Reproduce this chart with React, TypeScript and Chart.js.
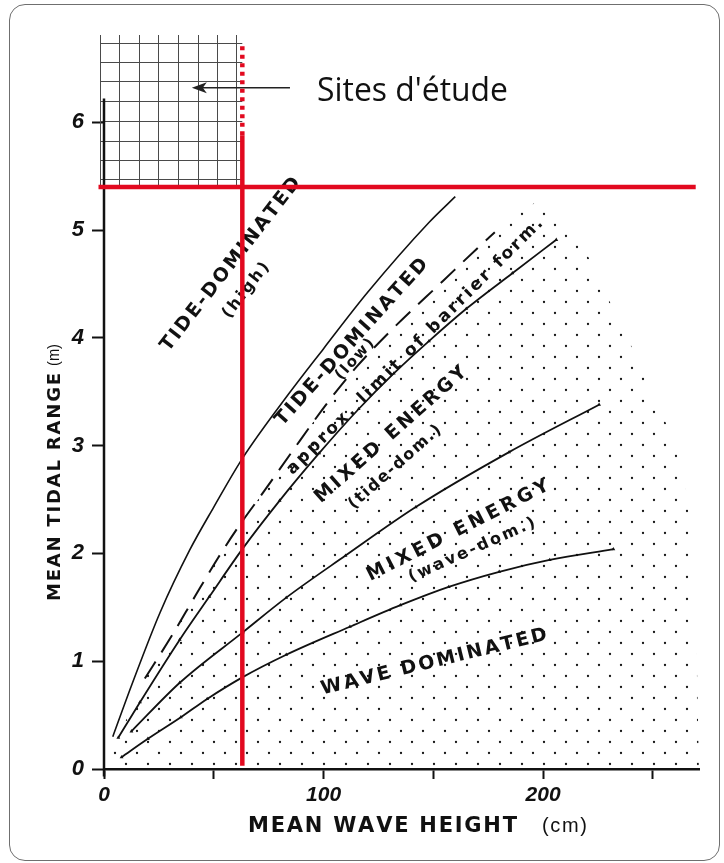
import React, { useEffect, useRef } from 'react';
import { Chart, registerables } from 'chart.js';

Chart.register(...registerables);

// ---------- DATA (x: mean wave height in cm, y: mean tidal range in m) ----------
const TIDE_HIGH_X = [4, 13, 25.5, 39, 50, 63, 84.5, 100, 120, 148, 160];
const TIDE_HIGH_Y = [0.3, 0.8, 1.45, 2.03, 2.43, 2.88, 3.49, 3.9, 4.42, 5.07, 5.31];

const BARRIER_LIMIT_X = [18.6, 31, 41.4, 52, 61, 73, 85.5, 101.5, 115, 130.8, 154.5, 170.5, 178];
const BARRIER_LIMIT_Y = [0.84, 1.24, 1.6, 1.96, 2.24, 2.58, 2.94, 3.39, 3.73, 4.07, 4.53, 4.84, 4.98];

const TIDE_LOW_X = [6.5, 16.4, 34.5, 48, 63, 80, 98, 116, 132, 148, 165, 186, 206];
const TIDE_LOW_Y = [0.29, 0.62, 1.2, 1.6, 2.04, 2.49, 2.93, 3.34, 3.67, 3.97, 4.27, 4.6, 4.91];

const MIXED_X = [12.5, 34.5, 63.3, 83, 110, 142, 184.5, 225.5];
const MIXED_Y = [0.35, 0.8, 1.27, 1.59, 1.98, 2.43, 2.94, 3.38];

const WAVE_X = [8, 20, 35, 47, 63, 83, 112, 135, 157, 180, 203, 232];
const WAVE_Y = [0.11, 0.28, 0.48, 0.65, 0.85, 1.06, 1.32, 1.52, 1.69, 1.83, 1.94, 2.04];

const STIPPLE_X = [3, 10, 18.6, 31, 41.4, 52, 61, 73, 85.5, 101.5, 115, 130.8, 154.5, 170.5, 185, 198, 206, 218, 230, 242, 252, 260, 265, 268, 270, 271];
const STIPPLE_Y = [0.12, 0.45, 0.84, 1.24, 1.6, 1.96, 2.24, 2.58, 2.94, 3.39, 3.73, 4.07, 4.53, 4.87, 5.12, 5.26, 5.16, 4.85, 4.35, 3.85, 3.4, 3.0, 2.6, 2.0, 1.0, 0];

const STUDY_WAVE_HEIGHT = 63; // cm
const STUDY_TIDAL_RANGE = 5.4; // m
const STUDY_GRID_X = [-1.8, 6.8, 15.9, 24.5, 33.6, 42.7, 51.4, 60];
const STUDY_GRID_Y = [5.47, 5.65, 5.83, 6.01, 6.2, 6.38, 6.56, 6.74];

const X_TICK_LABELS = [0, 100, 200];
const Y_TICK_LABELS = [0, 1, 2, 3, 4, 5, 6];

const REGION_LABELS = [
  'TIDE-DOMINATED',
  '(high)',
  'TIDE-DOMINATED',
  '(low)',
  'approx. limit of barrier form.',
  'MIXED ENERGY',
  '(tide-dom.)',
  'MIXED ENERGY',
  '(wave-dom.)',
  'WAVE DOMINATED',
];
const SITES_TEXT = "Sites d'étude";
const X_TITLE = 'MEAN WAVE HEIGHT';
const X_UNIT = '(cm)';
const Y_TITLE = 'MEAN TIDAL RANGE';
const Y_UNIT = '(m)';

// ---------- LAYOUT ----------
const FONT = "'Liberation Sans', 'DejaVu Sans', Arial, sans-serif";
const LABEL_FONT = "'DejaVu Sans', 'Liberation Sans', sans-serif";
const LABEL_LAYOUT = [
  { x: 57.8, y: 4.68, angle: -52, size: 19, width: 215 },
  { x: 64.7, y: 4.44, angle: -52, size: 16, width: 66 },
  { x: 112.9, y: 3.96, angle: -48, size: 19, width: 218 },
  { x: 114.3, y: 3.8, angle: -48, size: 15, width: 50 },
  { x: 141.6, y: 3.92, angle: -45, size: 17, width: 355 },
  { x: 130.7, y: 3.1, angle: -41.5, size: 19, width: 196 },
  { x: 132.5, y: 2.8, angle: -41.5, size: 16, width: 118 },
  { x: 161.2, y: 2.21, angle: -27, size: 19, width: 202 },
  { x: 167.6, y: 2.03, angle: -24, size: 16, width: 137 },
  { x: 150.3, y: 0.99, angle: -13.7, size: 19, width: 232 },
];

const RED = '#e2091f';
const INK = '#111111';

const pts = (xs: number[], ys: number[]) => xs.map((x, i) => ({ x, y: ys[i] }));

function drawFitted(
  ctx: CanvasRenderingContext2D,
  text: string,
  cx: number,
  cy: number,
  angleDeg: number,
  font: string,
  width: number,
  baseline: CanvasTextBaseline = 'middle',
  color = INK
) {
  ctx.save();
  ctx.font = font;
  ctx.fillStyle = color;
  ctx.textBaseline = baseline;
  ctx.textAlign = 'left';
  ctx.translate(cx, cy);
  ctx.rotate((angleDeg * Math.PI) / 180);
  const chars = Array.from(text);
  const widths = chars.map((c) => ctx.measureText(c).width);
  const w0 = widths.reduce((a, b) => a + b, 0);
  if (w0 >= width || chars.length < 2) {
    const s = w0 > 0 ? width / w0 : 1;
    ctx.scale(Math.min(s, 1.0), 1);
    ctx.fillText(text, -w0 / 2, 0);
  } else {
    const sp = (width - w0) / (chars.length - 1);
    let x = -width / 2;
    chars.forEach((c, i) => {
      ctx.fillText(c, x, 0);
      x += widths[i] + sp;
    });
  }
  ctx.restore();
}

export default function App() {
  const ref = useRef<HTMLCanvasElement>(null);

  useEffect(() => {
    const canvas = ref.current;
    if (!canvas) return;
    const ctx = canvas.getContext('2d')!;

    const tile = document.createElement('canvas');
    tile.width = 22;
    tile.height = 22;
    const tctx = tile.getContext('2d')!;
    tctx.fillStyle = '#151515';
    tctx.beginPath();
    tctx.arc(5, 5, 1.15, 0, Math.PI * 2);
    tctx.arc(16, 16, 1.15, 0, Math.PI * 2);
    tctx.fill();
    const stipple = ctx.createPattern(tile, 'repeat')!;

    const decor = {
      id: 'decor',
      beforeDatasetsDraw(chart: any) {
        const c = chart.ctx as CanvasRenderingContext2D;
        const xs = chart.scales.x;
        const ys = chart.scales.y;
        const X = (v: number) => xs.getPixelForValue(v);
        const Y = (v: number) => ys.getPixelForValue(v);
        const top = chart.chartArea.top;
        c.save();
        // study-site grid
        c.strokeStyle = '#4a4a4a';
        c.lineWidth = 1;
        STUDY_GRID_X.forEach((gx) => {
          const px = Math.round(X(gx)) + 0.5;
          c.beginPath();
          c.moveTo(px, Y(STUDY_TIDAL_RANGE));
          c.lineTo(px, top);
          c.stroke();
        });
        STUDY_GRID_Y.forEach((gy) => {
          const py = Math.round(Y(gy)) + 0.5;
          c.beginPath();
          c.moveTo(X(STUDY_GRID_X[0]), py);
          c.lineTo(X(STUDY_WAVE_HEIGHT), py);
          c.stroke();
        });
        // y axis line
        c.strokeStyle = INK;
        c.lineWidth = 2.5;
        c.beginPath();
        c.moveTo(X(0), Y(-0.07));
        c.lineTo(X(0), Y(6.22));
        c.stroke();
        c.restore();

        // region labels
        REGION_LABELS.forEach((t, i) => {
          const L = LABEL_LAYOUT[i];
          drawFitted(c, t, X(L.x), Y(L.y), L.angle, `bold ${L.size}px ${LABEL_FONT}`, L.width);
        });

        // Sites d'étude + arrow
        const ay = Y(6.32);
        drawFitted(c, SITES_TEXT, 412.5, ay + 13, 0, `32px 'Open Sans', ${FONT}`, 191, 'alphabetic');
        c.save();
        c.strokeStyle = '#222';
        c.fillStyle = '#222';
        c.lineWidth = 1.6;
        const ax0 = X(84.7);
        const ax1 = X(40);
        c.beginPath();
        c.moveTo(ax0, ay);
        c.lineTo(ax1 + 8, ay);
        c.stroke();
        c.beginPath();
        c.moveTo(ax1, ay);
        c.lineTo(ax1 + 15, ay - 5.5);
        c.lineTo(ax1 + 11, ay);
        c.lineTo(ax1 + 15, ay + 5.5);
        c.closePath();
        c.fill();
        c.restore();
      },
      afterDraw(chart: any) {
        const c = chart.ctx as CanvasRenderingContext2D;
        const area = chart.chartArea;
        // x axis title
        drawFitted(c, X_TITLE, 382.5, area.bottom + 63, 0, `bold 21px ${LABEL_FONT}`, 269, 'alphabetic');
        drawFitted(c, X_UNIT, 564.5, area.bottom + 63, 0, `20px ${FONT}`, 45, 'alphabetic');
        // y axis title
        drawFitted(c, Y_TITLE, 55, 487, -90, `bold 18px ${LABEL_FONT}`, 228, 'middle');
        drawFitted(c, Y_UNIT, 55, 355, -90, `16px ${FONT}`, 22, 'middle');
      },
    };

    const lineBase = {
      borderColor: INK,
      borderWidth: 1.8,
      pointRadius: 0,
      cubicInterpolationMode: 'monotone' as const,
      fill: false,
    };
    const barbs = {
      pointRadius: 2.2,
      pointStyle: 'triangle' as const,
      pointBackgroundColor: INK,
      pointBorderWidth: 0,
    };

    const chart = new Chart(canvas, {
      type: 'line',
      data: {
        datasets: [
          {
            label: 'vertical red (dotted)',
            data: [
              { x: STUDY_WAVE_HEIGHT, y: 5.88 },
              { x: STUDY_WAVE_HEIGHT, y: 6.72 },
            ],
            borderColor: RED,
            borderWidth: 4.5,
            borderDash: [4, 4.5],
            pointRadius: 0,
            order: 0,
          },
          {
            label: 'vertical red',
            data: [
              { x: STUDY_WAVE_HEIGHT, y: 0.03 },
              { x: STUDY_WAVE_HEIGHT, y: 5.88 },
            ],
            borderColor: RED,
            borderWidth: 4.5,
            pointRadius: 0,
            order: 0,
          },
          {
            label: 'horizontal red',
            data: [
              { x: -2.5, y: STUDY_TIDAL_RANGE },
              { x: 269.5, y: STUDY_TIDAL_RANGE },
            ],
            borderColor: RED,
            borderWidth: 4.5,
            pointRadius: 0,
            clip: false as any,
            order: 0,
          },
          { label: 'tide high', data: pts(TIDE_HIGH_X, TIDE_HIGH_Y), ...lineBase, borderWidth: 1.6, order: 1 },
          {
            label: 'barrier limit',
            data: pts(BARRIER_LIMIT_X, BARRIER_LIMIT_Y),
            ...lineBase,
            borderWidth: 2,
            borderDash: [20, 11],
            order: 1,
          },
          { label: 'tide low', data: pts(TIDE_LOW_X, TIDE_LOW_Y), ...lineBase, ...barbs, order: 1 },
          { label: 'mixed', data: pts(MIXED_X, MIXED_Y), ...lineBase, ...barbs, order: 1 },
          { label: 'wave', data: pts(WAVE_X, WAVE_Y), ...lineBase, ...barbs, order: 1 },
          {
            label: 'stipple',
            data: pts(STIPPLE_X, STIPPLE_Y),
            borderWidth: 0,
            borderColor: 'rgba(0,0,0,0)',
            pointRadius: 0,
            tension: 0.2,
            fill: 'origin',
            backgroundColor: stipple as any,
            order: 10,
          },
        ],
      },
      options: {
        animation: false,
        responsive: false,
        maintainAspectRatio: false,
        layout: { padding: { top: 35, right: 25, left: 0, bottom: 0 } },
        plugins: { legend: { display: false }, tooltip: { enabled: false } },
        scales: {
          x: {
            type: 'linear',
            min: 0,
            max: 271,
            afterFit: (s: any) => {
              s.height = 94;
            },
            border: { display: true, color: INK, width: 2.5 },
            grid: { display: true, drawOnChartArea: false, drawTicks: true, tickLength: 10, tickWidth: 2, color: INK },
            ticks: {
              stepSize: 50,
              includeBounds: false,
              autoSkip: false,
              maxRotation: 0,
              padding: 4,
              color: INK,
              font: { family: FONT, size: 21, style: 'italic', weight: 'bold' },
              callback: (v: any) => (X_TICK_LABELS.includes(Number(v)) ? String(v) : ''),
            },
          },
          y: {
            type: 'linear',
            min: 0,
            max: 6.81,
            afterFit: (s: any) => {
              s.width = 104;
            },
            border: { display: false },
            grid: { display: true, drawOnChartArea: false, drawTicks: true, tickLength: 12, tickWidth: 2, color: INK },
            ticks: {
              stepSize: 1,
              includeBounds: false,
              autoSkip: false,
              padding: 8,
              color: INK,
              font: { family: FONT, size: 22, style: 'italic', weight: 'bold' },
              callback: (v: any) => (Y_TICK_LABELS.includes(Number(v)) ? String(v) : ''),
            },
          },
        },
      },
      plugins: [decor],
    } as any);

    return () => chart.destroy();
  }, []);

  return (
    <div style={{ position: 'absolute', left: 0, top: 0, width: 724, height: 863, background: '#fff', overflow: 'hidden' }}>
      <div
        style={{
          position: 'absolute',
          left: 9,
          top: 4,
          width: 711,
          height: 857,
          border: '1.5px solid #6f6f6f',
          borderRadius: 16,
          boxSizing: 'border-box',
        }}
      />
      <canvas ref={ref} width={724} height={863} style={{ position: 'absolute', left: 0, top: 0 }} />
    </div>
  );
}
